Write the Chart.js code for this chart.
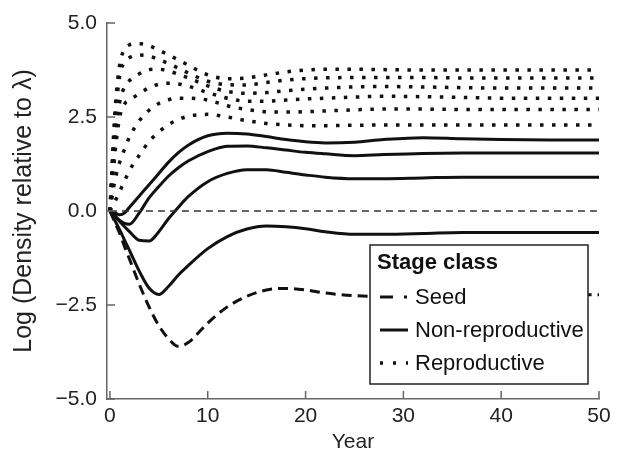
<!DOCTYPE html>
<html>
<head>
<meta charset="utf-8">
<script src="https://cdn.jsdelivr.net/npm/chart.js@4.4.0/dist/chart.umd.min.js"></script>
<style>
  html, body { margin: 0; padding: 0; background: #fff; }
  #wrap { width: 619px; height: 453px; }
</style>
</head>
<body>
<div id="wrap"><canvas id="chart" width="619" height="453"></canvas></div>
<script>
"use strict";

// years sampled along the curves
const years = [0, 0.5, 1, 1.5, 2, 3, 4, 5, 6, 7, 8, 10, 12, 14, 16, 18, 20, 22, 25, 28, 32, 36, 40, 45, 50];

// seed (dashed)
const seed = [0, -0.3, -0.6, -0.95, -1.28, -1.95, -2.55, -3.05, -3.4, -3.6, -3.5, -2.98, -2.55, -2.27, -2.1, -2.06, -2.1, -2.18, -2.25, -2.27, -2.25, -2.23, -2.22, -2.23, -2.23];

// non-reproductive (solid), bottom to top
const nonRep1 = [0, -0.25, -0.5, -0.78, -1.05, -1.6, -2.05, -2.22, -2.0, -1.7, -1.45, -1.0, -0.68, -0.48, -0.4, -0.42, -0.47, -0.55, -0.62, -0.62, -0.6, -0.57, -0.57, -0.57, -0.57];
const nonRep2 = [0, -0.14, -0.28, -0.42, -0.55, -0.78, -0.8, -0.55, -0.2, 0.1, 0.38, 0.78, 1.0, 1.1, 1.1, 1.03, 0.96, 0.9, 0.86, 0.86, 0.88, 0.9, 0.9, 0.9, 0.9];
const nonRep3 = [0, -0.12, -0.25, -0.33, -0.35, -0.05, 0.35, 0.65, 0.93, 1.15, 1.33, 1.58, 1.72, 1.73, 1.68, 1.62, 1.56, 1.52, 1.47, 1.5, 1.53, 1.54, 1.54, 1.54, 1.54];
const nonRep4 = [0, -0.05, -0.1, -0.05, 0.1, 0.4, 0.7, 1.0, 1.3, 1.55, 1.75, 2.0, 2.07, 2.05, 1.98, 1.9, 1.84, 1.81, 1.83, 1.9, 1.95, 1.92, 1.9, 1.89, 1.89];

// reproductive (dotted), bottom to top
const rep1 = [0, 0.25, 0.52, 0.8, 1.08, 1.48, 1.85, 2.1, 2.3, 2.43, 2.52, 2.57, 2.5, 2.4, 2.33, 2.29, 2.27, 2.27, 2.28, 2.29, 2.29, 2.29, 2.29, 2.29, 2.29];
const rep2 = [0, 0.8, 1.3, 1.65, 1.97, 2.4, 2.68, 2.86, 2.96, 3.0, 3.0, 2.95, 2.8, 2.7, 2.64, 2.63, 2.64, 2.66, 2.69, 2.71, 2.71, 2.7, 2.7, 2.7, 2.7];
const rep3 = [0, 1.5, 2.5, 2.85, 2.95, 3.12, 3.28, 3.37, 3.4, 3.38, 3.32, 3.15, 3.0, 2.92, 2.92, 2.95, 2.98, 3.0, 3.03, 3.05, 3.04, 3.02, 3.0, 3.0, 3.0];
const rep4 = [0, 1.9, 2.9, 3.3, 3.47, 3.65, 3.76, 3.77, 3.72, 3.64, 3.54, 3.33, 3.18, 3.13, 3.15, 3.2, 3.24, 3.27, 3.3, 3.31, 3.3, 3.28, 3.27, 3.27, 3.27];
const rep5 = [0, 2.3, 3.6, 3.95, 4.08, 4.15, 4.12, 4.03, 3.92, 3.8, 3.67, 3.45, 3.36, 3.35, 3.42, 3.48, 3.52, 3.54, 3.55, 3.55, 3.55, 3.54, 3.54, 3.54, 3.54];
const rep6 = [0, 2.6, 3.9, 4.3, 4.42, 4.45, 4.4, 4.28, 4.15, 4.02, 3.88, 3.62, 3.52, 3.54, 3.62, 3.7, 3.75, 3.77, 3.77, 3.76, 3.75, 3.75, 3.75, 3.75, 3.75];

// dashed reference at zero
const zeroYears = [0, 50];
const zeroLine = [0, 0];

const xTicks = [0, 10, 20, 30, 40, 50];
const yTicks = [-5, -2.5, 0, 2.5, 5];
const yTickLabels = ["\u22125.0", "\u22122.5", "0.0", "2.5", "5.0"];

const legendTitle = "Stage class";
const legendLabels = ["Seed", "Non-reproductive", "Reproductive"];

const FONT = '"Liberation Sans", Arial, Helvetica, sans-serif';
const INK = "#111";

function toPoints(xs, ys) {
    return xs.map((x, i) => ({ x: x, y: ys[i] }));
}

function lineSet(ys, kind) {
    var ds = {
        data: toPoints(years, ys),
        borderColor: INK,
        borderWidth: 3,
        borderCapStyle: "butt",
        pointRadius: 0,
        fill: false,
        cubicInterpolationMode: "monotone"
    };
    if (kind == "dash") ds.borderDash = [10, 6];
    if (kind == "dot") {
        ds.borderWidth = 3.5;
        ds.borderDash = [3.5, 8.5];
    }
    return ds;
}

// inward tick marks on both axes
const innerTicks = {
    id: "innerTicks",
    afterDraw(chart) {
        const { ctx, chartArea, scales } = chart;
        ctx.save();
        ctx.strokeStyle = "#666";
        ctx.lineWidth = 1.5;
        ctx.beginPath();
        yTicks.forEach(v => {
            var py = scales.y.getPixelForValue(v);
            ctx.moveTo(chartArea.left, py);
            ctx.lineTo(chartArea.left + 8, py);
        });
        xTicks.forEach(v => {
            var px = scales.x.getPixelForValue(v);
            ctx.moveTo(px, chartArea.bottom);
            ctx.lineTo(px, chartArea.bottom - 8);
        });
        ctx.stroke();
        ctx.restore();
    }
};

// boxed legend in the lower right of the plot
const legendBox = {
    id: "legendBox",
    afterDraw(chart) {
        const { ctx, chartArea } = chart;
        const w = 218, h = 139;
        const x = chartArea.right - 11 - w, y = chartArea.bottom - 15 - h;
        ctx.save();
        ctx.fillStyle = "#fff";
        ctx.fillRect(x, y, w, h);
        ctx.strokeStyle = "#222";
        ctx.lineWidth = 1.5;
        ctx.strokeRect(x, y, w, h);

        ctx.fillStyle = INK;
        ctx.textBaseline = "alphabetic";
        ctx.textAlign = "left";
        ctx.font = "bold 22px " + FONT;
        ctx.fillText(legendTitle, x + 7, y + 24);

        ctx.font = "22px " + FONT;
        const dashes = [[13, 11, 3, 100], [], [3, 10]];
        const widths = [3, 3, 3.5];
        legendLabels.forEach((label, i) => {
            var base = y + 59 + i * 33;
            ctx.beginPath();
            ctx.setLineDash(dashes[i]);
            ctx.lineWidth = widths[i];
            ctx.strokeStyle = INK;
            ctx.moveTo(x + 10, base - 7);
            ctx.lineTo(x + 38, base - 7);
            ctx.stroke();
            ctx.fillText(label, x + 45, base);
        });
        ctx.restore();
    }
};

var ctx = document.getElementById("chart").getContext("2d");
var chart = new Chart(ctx, {
    type: "line",
    data: {
        datasets: [
            {
                data: toPoints(zeroYears, zeroLine),
                borderColor: "#333",
                borderWidth: 1.5,
                borderDash: [7, 5],
                pointRadius: 0,
                fill: false
            },
            lineSet(seed, "dash"),
            lineSet(nonRep1), lineSet(nonRep2), lineSet(nonRep3), lineSet(nonRep4),
            lineSet(rep1, "dot"), lineSet(rep2, "dot"), lineSet(rep3, "dot"),
            lineSet(rep4, "dot"), lineSet(rep5, "dot"), lineSet(rep6, "dot")
        ]
    },
    options: {
        responsive: false,
        animation: false,
        layout: { padding: { top: 23, right: 20, bottom: 0, left: 0 } },
        plugins: {
            legend: { display: false },
            tooltip: { enabled: false }
        },
        scales: {
            x: {
                type: "linear",
                min: -0.3,
                max: 50,
                afterBuildTicks: (scale) => { scale.ticks = xTicks.map(v => ({ value: v })); },
                afterFit: (scale) => { scale.height = 54; },
                grid: { drawOnChartArea: false, drawTicks: false },
                border: { color: "#666", width: 1.5 },
                ticks: {
                    padding: 5,
                    color: "#222",
                    font: { family: FONT, size: 21 },
                    callback: (v) => String(v)
                },
                title: {
                    display: true,
                    text: "Year",
                    color: "#222",
                    font: { family: FONT, size: 21, lineHeight: 1.0 },
                    padding: { top: 0, bottom: 0 }
                }
            },
            y: {
                min: -5,
                max: 5,
                afterBuildTicks: (scale) => { scale.ticks = yTicks.map(v => ({ value: v })); },
                afterFit: (scale) => { scale.width = 107; },
                grid: { drawOnChartArea: false, drawTicks: false },
                border: { color: "#666", width: 1.5 },
                ticks: {
                    padding: 10,
                    color: "#222",
                    font: { family: FONT, size: 21 },
                    callback: (v) => yTickLabels[yTicks.indexOf(v)]
                },
                title: {
                    display: true,
                    text: "Log (Density relative to \u03bb)",
                    color: "#222",
                    font: { family: FONT, size: 25 },
                    padding: { top: 9, bottom: 0 }
                }
            }
        }
    },
    plugins: [innerTicks, legendBox]
});
</script>
</body>
</html>
